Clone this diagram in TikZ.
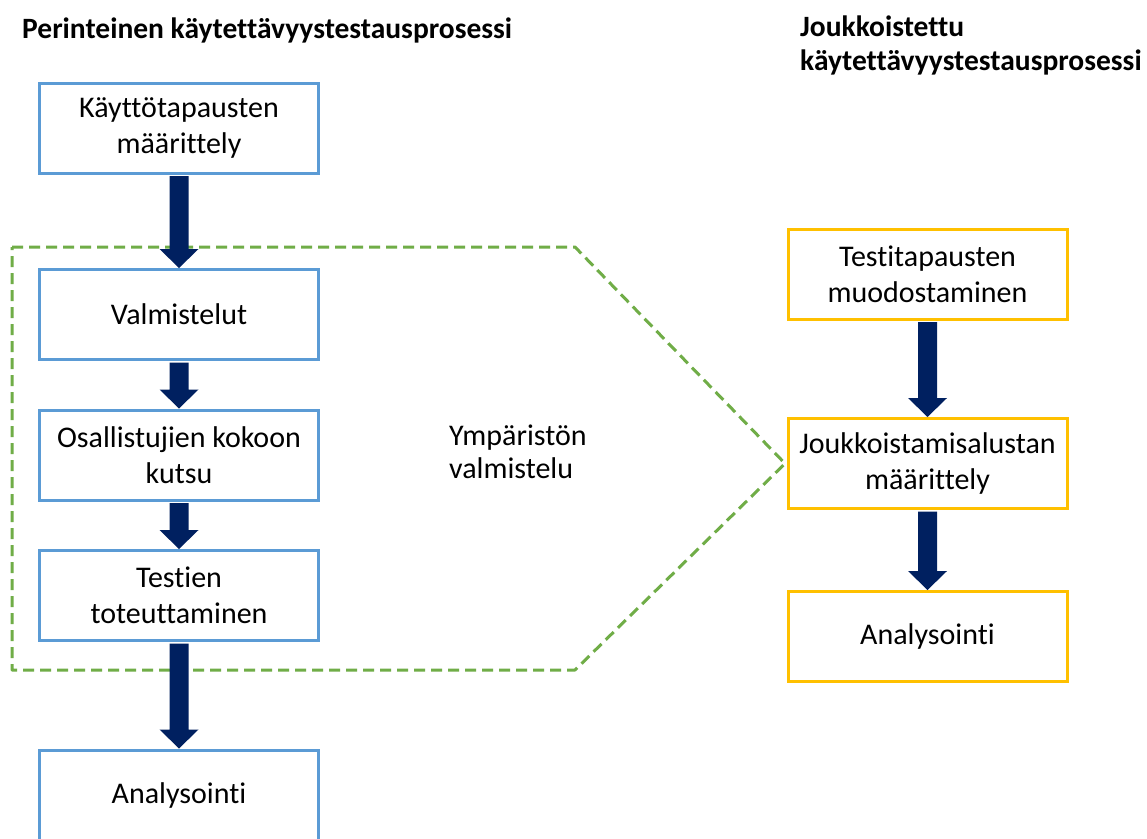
\documentclass[tikz,border=0pt]{standalone}
\usepackage{fontspec}
\setmainfont{Carlito}[Ligatures={NoCommon}]
\usetikzlibrary{calc}
\definecolor{boxblue}{HTML}{5B9BD5}
\definecolor{boxyellow}{HTML}{FFC000}
\definecolor{arrownavy}{HTML}{002060}
\definecolor{dashgreen}{HTML}{70AD47}
\tikzset{
  procbox/.style={draw=#1, line width=3pt, fill=white, minimum width=279pt, minimum height=90pt,
    inner sep=2pt, align=center, font=\fontsize{30}{36}\selectfont, text=black},
  titletext/.style={font=\fontsize{29.5}{34}\selectfont\bfseries, inner sep=0pt, text=black},
  envtext/.style={font=\fontsize{30}{33}\selectfont, inner sep=0pt, align=left, text=black},
  envline/.style={draw=dashgreen, line width=3pt, dash pattern=on 11pt off 6pt, line join=round},
}
\newcommand\fatarrow[2]{%
  \fill[arrownavy] ($(#1.south)+(-9.5,1.5)$) -- ($(#2.north)+(-9.5,-19)$) -- ($(#2.north)+(-19.5,-19)$)
    -- ($(#2.north)+(0,0)$) -- ($(#2.north)+(19.5,-19)$) -- ($(#2.north)+(9.5,-19)$)
    -- ($(#1.south)+(9.5,1.5)$) -- cycle;}
\begin{document}
\begin{tikzpicture}[x=1pt,y=-1pt]
\clip (0,0) rectangle (1147,838);
\fill[white] (0,0) rectangle (1147,838);
% titles
\node[titletext, anchor=base west] (t1) at (22,38) {Perinteinen käytettävyystestausprosessi};
\node[titletext, anchor=north west, align=left] (t2) at (800,16) {Joukkoistettu\\käytettävyystestausprosessi};
% environment region
\coordinate (g1) at (12,247);
\coordinate (g2) at (575,247);
\coordinate (g4) at (575,670);
\coordinate (g5) at (12,670);
% left boxes
\node[procbox=boxblue] (k1) at (179,128) {Käyttötapausten\\määrittely};
\node[procbox=boxblue] (k2) at (179,314.5) {Valmistelut};
\node[procbox=boxblue] (k3) at (179,455) {Osallistujien kokoon\\kutsu};
\node[procbox=boxblue] (k4) at (179,595.5) {Testien\\toteuttaminen};
\node[procbox=boxblue] (k5) at (179,795) {Analysointi};
% right boxes
\node[procbox=boxyellow] (r1) at (927.5,274) {Testitapausten\\muodostaminen};
\node[procbox=boxyellow] (r2) at (927.5,463.5) {Joukkoistamisalustan\\määrittely};
\node[procbox=boxyellow] (r3) at (927.5,636.5) {Analysointi};
% dashed polygon
\draw[envline] (g1) -- (g2) -- ($(r2.west)+(-1.5,0)$) -- (g4) -- (g5) -- cycle;
\node[envtext, anchor=west] (env) at (449,452) {Ympäristön\\valmistelu};
% arrows
\fatarrow{k1}{k2}
\fatarrow{k2}{k3}
\fatarrow{k3}{k4}
\fatarrow{k4}{k5}
\fatarrow{r1}{r2}
\fatarrow{r2}{r3}
\end{tikzpicture}
\end{document}
